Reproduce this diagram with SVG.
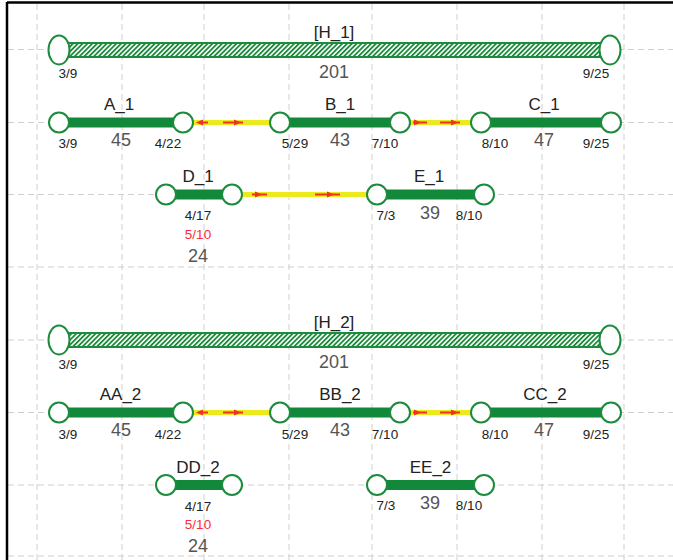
<svg xmlns="http://www.w3.org/2000/svg" width="673" height="560" viewBox="0 0 673 560">
<style>
.grid{stroke:#cfcfcf;stroke-width:1;stroke-dasharray:6 4;fill:none}
.bar{fill:#12893a}
.hbar{fill:url(#hatch);stroke:#1c8c3c;stroke-width:2}
.nd{fill:#fff;stroke:#1c8c3c;stroke-width:2}
.con{stroke:#ecea1c;stroke-width:5}
.ar{stroke:#f0302a;stroke-width:2}
.ah{fill:#f0302a}
text{font-family:"Liberation Sans",Arial,sans-serif;text-anchor:middle}
.t{font-size:17px;fill:#222}
.s{font-size:13.5px;fill:#222}
.n{font-size:18px;fill:#555}
.r{font-size:13.5px;fill:#ff2a3a}
</style>
<defs>
<pattern id="hatch" patternUnits="userSpaceOnUse" width="3.4" height="3.4" patternTransform="rotate(45)">
<rect width="3.4" height="3.4" fill="#fff"/>
<line x1="0.9" y1="0" x2="0.9" y2="3.4" stroke="#1a8a3a" stroke-width="1.8"/>
</pattern>
</defs>
<rect width="673" height="560" fill="#fff"/>
<g id="grid">
<path class="grid" d="M37 4V560M122 4V560M204 4V560M289 4V560M372 4V560M457 4V560M542 4V560M624 4V560"/>
<path class="grid" d="M8 49.5H673M8 122.5H673M8 194.5H673M8 267H673M8 340H673M8 412.5H673M8 485H673M8 556H673"/>
</g>
<path d="M7 2.5H673M7 2V560" stroke="#000" stroke-width="2.5" fill="none"/>

<g id="connectors">
<line class="con" x1="193" y1="122.5" x2="270" y2="122.5"/>
<line class="ar" x1="200" y1="122.5" x2="208" y2="122.5"/><polygon class="ah" points="196,122.5 203,119.5 203,125.5"/>
<line class="ar" x1="223" y1="122.5" x2="243" y2="122.5"/><polygon class="ah" points="241,122.5 234,119.5 234,125.5"/>
<line class="con" x1="410" y1="122.5" x2="471" y2="122.5"/>
<line class="ar" x1="413" y1="122.5" x2="427" y2="122.5"/><polygon class="ah" points="421,122.5 414,119.5 414,125.5"/>
<line class="ar" x1="440" y1="122.5" x2="460" y2="122.5"/><polygon class="ah" points="458,122.5 451,119.5 451,125.5"/>
<line class="con" x1="242" y1="194.5" x2="367" y2="194.5"/>
<line class="ar" x1="252" y1="194.5" x2="267" y2="194.5"/><polygon class="ah" points="262,194.5 255,191.5 255,197.5"/>
<line class="ar" x1="315" y1="194.5" x2="340" y2="194.5"/><polygon class="ah" points="334,194.5 327,191.5 327,197.5"/>
<line class="con" x1="193" y1="412.5" x2="270" y2="412.5"/>
<line class="ar" x1="200" y1="412.5" x2="208" y2="412.5"/><polygon class="ah" points="196,412.5 203,409.5 203,415.5"/>
<line class="ar" x1="223" y1="412.5" x2="243" y2="412.5"/><polygon class="ah" points="241,412.5 234,409.5 234,415.5"/>
<line class="con" x1="410" y1="412.5" x2="471" y2="412.5"/>
<line class="ar" x1="413" y1="412.5" x2="427" y2="412.5"/><polygon class="ah" points="421,412.5 414,409.5 414,415.5"/>
<line class="ar" x1="440" y1="412.5" x2="460" y2="412.5"/><polygon class="ah" points="458,412.5 451,409.5 451,415.5"/>
</g>

<g id="H_1">
<rect class="hbar" x="65" y="43" width="540" height="14"/>
<ellipse class="nd" cx="59" cy="50" rx="10.5" ry="14.5"/>
<ellipse class="nd" cx="610" cy="50" rx="10.5" ry="14.5"/>
<text class="t" x="334" y="37.5">[H_1]</text>
<text class="n" x="334" y="77.5">201</text>
<text class="s" x="68" y="78">3/9</text>
<text class="s" x="596" y="78">9/25</text>
</g>
<g id="A_1">
<rect class="bar" x="59" y="117.5" width="124" height="10"/>
<circle class="nd" cx="59" cy="122.5" r="10"/>
<circle class="nd" cx="183" cy="122.5" r="10"/>
<text class="t" x="119" y="110">A_1</text>
<text class="s" x="68" y="148">3/9</text>
<text class="n" x="121" y="146">45</text>
<text class="s" x="168" y="148">4/22</text>
</g>
<g id="B_1">
<rect class="bar" x="280" y="117.5" width="120" height="10"/>
<circle class="nd" cx="280" cy="122.5" r="10"/>
<circle class="nd" cx="400" cy="122.5" r="10"/>
<text class="t" x="340" y="110">B_1</text>
<text class="s" x="295" y="148">5/29</text>
<text class="n" x="340" y="146">43</text>
<text class="s" x="385" y="148">7/10</text>
</g>
<g id="C_1">
<rect class="bar" x="481" y="117.5" width="130" height="10"/>
<circle class="nd" cx="481" cy="122.5" r="10"/>
<circle class="nd" cx="611" cy="122.5" r="10"/>
<text class="t" x="544" y="110">C_1</text>
<text class="s" x="495" y="148">8/10</text>
<text class="n" x="544" y="146">47</text>
<text class="s" x="596" y="148">9/25</text>
</g>
<g id="D_1">
<rect class="bar" x="166" y="189.5" width="66" height="10"/>
<circle class="nd" cx="166" cy="194.5" r="10"/>
<circle class="nd" cx="232" cy="194.5" r="10"/>
<text class="t" x="198" y="181.7">D_1</text>
<text class="s" x="198" y="220">4/17</text>
<text class="r" x="198" y="238.5">5/10</text>
<text class="n" x="198" y="261.5">24</text>
</g>
<g id="E_1">
<rect class="bar" x="377" y="189.5" width="107" height="10"/>
<circle class="nd" cx="377" cy="194.5" r="10"/>
<circle class="nd" cx="484" cy="194.5" r="10"/>
<text class="t" x="429" y="181.7">E_1</text>
<text class="s" x="386" y="219.5">7/3</text>
<text class="n" x="430" y="218.5">39</text>
<text class="s" x="469" y="219.5">8/10</text>
</g>

<g id="H_2">
<rect class="hbar" x="65" y="333" width="540" height="14"/>
<ellipse class="nd" cx="59" cy="340" rx="10.5" ry="14.5"/>
<ellipse class="nd" cx="610" cy="340" rx="10.5" ry="14.5"/>
<text class="t" x="334" y="328">[H_2]</text>
<text class="n" x="334" y="368">201</text>
<text class="s" x="68" y="368.5">3/9</text>
<text class="s" x="596" y="368.5">9/25</text>
</g>
<g id="AA_2">
<rect class="bar" x="59" y="407.5" width="124" height="10"/>
<circle class="nd" cx="59" cy="412.5" r="10"/>
<circle class="nd" cx="183" cy="412.5" r="10"/>
<text class="t" x="120.5" y="400">AA_2</text>
<text class="s" x="68" y="438.5">3/9</text>
<text class="n" x="121" y="436">45</text>
<text class="s" x="168" y="438.5">4/22</text>
</g>
<g id="BB_2">
<rect class="bar" x="280" y="407.5" width="120" height="10"/>
<circle class="nd" cx="280" cy="412.5" r="10"/>
<circle class="nd" cx="400" cy="412.5" r="10"/>
<text class="t" x="340" y="400">BB_2</text>
<text class="s" x="295" y="438.5">5/29</text>
<text class="n" x="340" y="436">43</text>
<text class="s" x="385" y="438.5">7/10</text>
</g>
<g id="CC_2">
<rect class="bar" x="481" y="407.5" width="130" height="10"/>
<circle class="nd" cx="481" cy="412.5" r="10"/>
<circle class="nd" cx="611" cy="412.5" r="10"/>
<text class="t" x="545" y="400">CC_2</text>
<text class="s" x="495" y="438.5">8/10</text>
<text class="n" x="544" y="436">47</text>
<text class="s" x="596" y="438.5">9/25</text>
</g>
<g id="DD_2">
<rect class="bar" x="166" y="480" width="66" height="10"/>
<circle class="nd" cx="166" cy="485" r="10"/>
<circle class="nd" cx="232" cy="485" r="10"/>
<text class="t" x="198" y="472.7">DD_2</text>
<text class="s" x="198" y="510.5">4/17</text>
<text class="r" x="198" y="529">5/10</text>
<text class="n" x="198" y="552">24</text>
</g>
<g id="EE_2">
<rect class="bar" x="377" y="480" width="107" height="10"/>
<circle class="nd" cx="377" cy="485" r="10"/>
<circle class="nd" cx="484" cy="485" r="10"/>
<text class="t" x="430.5" y="472.7">EE_2</text>
<text class="s" x="386" y="510">7/3</text>
<text class="n" x="430" y="509">39</text>
<text class="s" x="469" y="510">8/10</text>
</g>
</svg>
